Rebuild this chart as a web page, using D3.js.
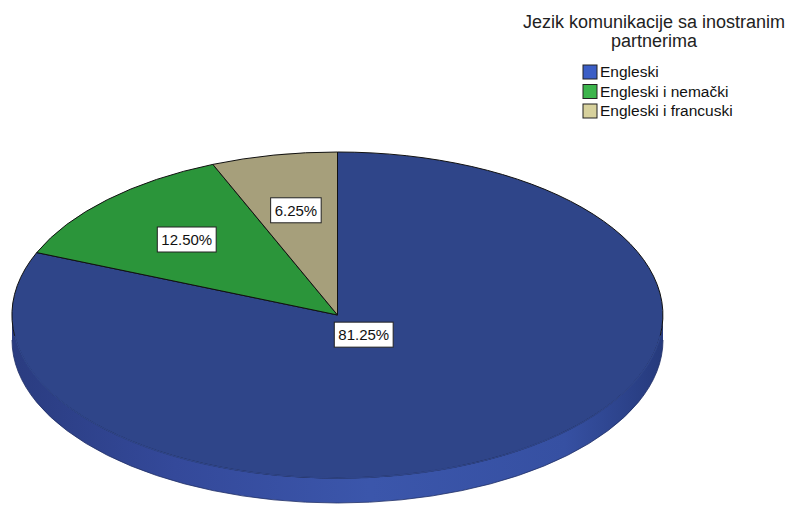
<!DOCTYPE html>
<html>
<head>
<meta charset="utf-8">
<script src="https://cdn.jsdelivr.net/npm/d3@7"></script>
<style>
  body { margin: 0; background: #fff; }
  text { font-family: "Liberation Sans", Arial, sans-serif; }
</style>
</head>
<body>
<div id="chart"></div>
<script>
// Chart data
var title = ["Jezik komunikacije sa inostranim", "partnerima"];
var categories = ["Engleski", "Engleski i nemački", "Engleski i francuski"];
var percents = [81.25, 12.50, 6.25];
var labels = ["81.25%", "12.50%", "6.25%"];

// Colours: top face, side wall and legend swatch
var topColors = ["#2f4589", "#2b953a", "#a69f7b"];
var sideColors = ["#3a54a6", "#33a845", "#bdb58c"];
var lgdColors = ["#3b5ec6", "#3cb44c", "#d7d19d"];

var svgWdt = 800;
var svgHgt = 506;

// Pie geometry
var cx = 337.5, cy = 315;
var rx = 325.5, ry = 163;
var depth = 25;

var svg = d3.select("#chart").append("svg")
    .attr("width", svgWdt)
    .attr("height", svgHgt);

var defs = svg.append("defs");
var grad = defs.append("linearGradient")
    .attr("id", "sideGrad")
    .attr("gradientUnits", "userSpaceOnUse")
    .attr("x1", -1).attr("x2", 1).attr("y1", 0).attr("y2", 0);
grad.append("stop").attr("offset", "0%").attr("stop-color", "#2a3c80");
grad.append("stop").attr("offset", "25%").attr("stop-color", "#34499a");
grad.append("stop").attr("offset", "55%").attr("stop-color", "#3b56ab");
grad.append("stop").attr("offset", "85%").attr("stop-color", "#3650a2");
grad.append("stop").attr("offset", "100%").attr("stop-color", "#263a7c");

var pie = d3.pie().sort(null).value(d => d);
var arcs = pie(percents);

// Unit circle group, squashed into an ellipse
var pieGrp = svg.append("g")
    .attr("transform", `translate(${cx}, ${cy}) scale(${rx}, ${ry})`);

// Side wall (only the front half is visible)
var dUnit = depth / ry;
var h = Math.PI / 2;
arcs.forEach((a, i) => {
    var a0 = Math.max(a.startAngle, h);
    var a1 = Math.min(a.endAngle, 3 * h);
    if (a1 <= a0) return;
    var p = d3.path();
    p.arc(0, 0, 1, a0 - h, a1 - h);
    p.lineTo(Math.cos(a1 - h), Math.sin(a1 - h) + dUnit);
    p.arc(0, dUnit, 1, a1 - h, a0 - h, true);
    p.closePath();
    pieGrp.append("path")
        .attr("d", p.toString())
        .attr("fill", i == 0 ? "url(#sideGrad)" : sideColors[i]);
    // soft outline along the bottom rim
    var b = d3.path();
    b.arc(0, dUnit, 1, a0 - h, a1 - h);
    pieGrp.append("path")
        .attr("d", b.toString())
        .attr("fill", "none")
        .attr("stroke", "#1f2f66")
        .attr("stroke-width", 0.8)
        .attr("vector-effect", "non-scaling-stroke");
});

// Top face slices
var arc = d3.arc().innerRadius(0).outerRadius(1);
pieGrp.selectAll(".slice").data(arcs)
    .enter()
    .append("path")
        .attr("class", "slice")
        .attr("d", arc)
        .attr("fill", (d, i) => topColors[i])
        .attr("stroke", "#111")
        .attr("stroke-width", 1)
        .attr("stroke-linejoin", "round")
        .attr("vector-effect", "non-scaling-stroke");

// Hide the dark rim on the front edge so top blends into side
arcs.forEach((a, i) => {
    var a0 = Math.max(a.startAngle, h * 1.08);
    var a1 = Math.min(a.endAngle, 3 * h * 0.973);
    if (a1 <= a0) return;
    var p = d3.path();
    p.arc(0, 0, 1, a0 - h, a1 - h);
    pieGrp.append("path")
        .attr("d", p.toString())
        .attr("fill", "none")
        .attr("stroke", topColors[i])
        .attr("stroke-width", 1.6)
        .attr("vector-effect", "non-scaling-stroke");
});

// Slice labels in white boxes
var lblGrp = svg.append("g");
arcs.forEach((a, i) => {
    var mid = (a.startAngle + a.endAngle) / 2;
    var f = (a.endAngle - a.startAngle) > Math.PI ? 0.145 : 0.655;
    var lx = cx + Math.sin(mid) * rx * f;
    var ly = cy - Math.cos(mid) * ry * f;
    var g = lblGrp.append("g").attr("transform", `translate(${lx}, ${ly})`);
    var rect = g.append("rect");
    var t = g.append("text")
        .attr("text-anchor", "middle")
        .attr("dy", "0.36em")
        .attr("font-size", 15)
        .attr("fill", "#111")
        .text(labels[i]);
    var bb = t.node().getBBox();
    rect.attr("x", bb.x - 4).attr("y", -12.5)
        .attr("width", bb.width + 8).attr("height", 25)
        .attr("fill", "#fff")
        .attr("stroke", "#222")
        .attr("stroke-width", 1);
});

// Legend title
svg.append("g").selectAll("text").data(title)
    .enter()
    .append("text")
        .attr("x", 654)
        .attr("y", (d, i) => 28 + i * 19)
        .attr("text-anchor", "middle")
        .attr("font-size", 18)
        .attr("fill", "#222")
        .text(d => d);

// Legend entries
var lgd = svg.append("g").selectAll("g").data(categories)
    .enter()
    .append("g")
        .attr("transform", (d, i) => `translate(583, ${65 + i * 19.5})`);
lgd.append("rect")
    .attr("width", 14).attr("height", 14)
    .attr("fill", (d, i) => lgdColors[i])
    .attr("stroke", "#222")
    .attr("stroke-width", 1);
lgd.append("text")
    .attr("x", 17)
    .attr("y", 12)
    .attr("font-size", 15.5)
    .attr("fill", "#111")
    .text(d => d);
</script>
</body>
</html>
